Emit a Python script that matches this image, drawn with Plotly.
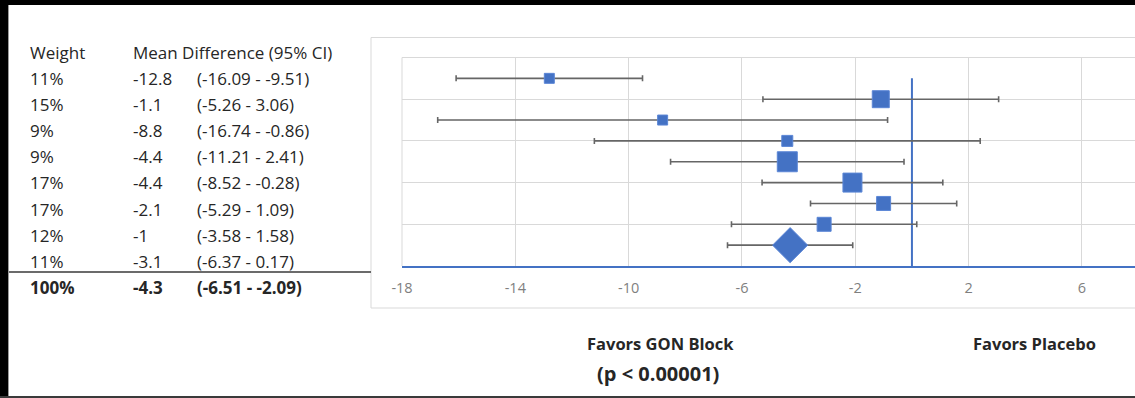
import plotly.graph_objects as go

# ---------------- data ----------------
weights = ["11%", "15%", "9%", "9%", "17%", "17%", "12%", "11%"]
mean_diff = [-12.8, -1.1, -8.8, -4.4, -4.4, -2.1, -1.0, -3.1]
ci_low = [-16.09, -5.26, -16.74, -11.21, -8.52, -5.29, -3.58, -6.37]
ci_high = [-9.51, 3.06, -0.86, 2.41, -0.28, 1.09, 1.58, 0.17]
mean_labels = ["-12.8", "-1.1", "-8.8", "-4.4", "-4.4", "-2.1", "-1", "-3.1"]
ci_labels = ["(-16.09 - -9.51)", "(-5.26 - 3.06)", "(-16.74 - -0.86)", "(-11.21 - 2.41)",
             "(-8.52 - -0.28)", "(-5.29 - 1.09)", "(-3.58 - 1.58)", "(-6.37 - 0.17)"]

pooled_weight = "100%"
pooled_mean = -4.3
pooled_low = -6.51
pooled_high = -2.09
pooled_mean_label = "-4.3"
pooled_ci_label = "(-6.51 - -2.09)"

null_effect = 0
x_tick_vals = [-18, -14, -10, -6, -2, 2, 6, 10]
x_tick_text = ["-18", "-14", "-10", "-6", "-2", "2", "6", "10"]

header = ["Weight", "Mean Difference (95% CI)"]
left_label = "Favors GON Block"
p_label = "(p < 0.00001)"
right_label = "Favors Placebo"

# ---------------- styles ----------------
W, H = 1135, 398
BLUE = "#4472C4"
GRID = "#d9d9d9"
TXT = "#262626"
FONT = "Open Sans"
marker_px = [10, 17, 10, 11, 20, 19, 14, 14]   # square side lengths (style)
diamond_px = 27


def px(x):
    return x / W


def py(y):
    return 1 - y / H


n = len(mean_diff)
study_y = [n + 1 - i for i in range(n)]   # 9 .. 2
pooled_y = 1

fig = go.Figure()

# null-effect vertical line
fig.add_trace(go.Scatter(
    x=[null_effect, null_effect], y=[0, n + 1], mode="lines",
    line=dict(color=BLUE, width=2), hoverinfo="skip", showlegend=False))

# studies
fig.add_trace(go.Scatter(
    x=mean_diff, y=study_y, mode="markers",
    marker=dict(symbol="square", size=marker_px, color=BLUE, opacity=1,
                line=dict(color="#5b86d6", width=1)),
    error_x=dict(type="data", symmetric=False,
                 array=[h - m for h, m in zip(ci_high, mean_diff)],
                 arrayminus=[m - l for m, l in zip(mean_diff, ci_low)],
                 color="#666666", thickness=1.6, width=3),
    showlegend=False))

# pooled
fig.add_trace(go.Scatter(
    x=[pooled_mean], y=[pooled_y], mode="markers",
    marker=dict(symbol="diamond", size=diamond_px, color=BLUE, opacity=1,
                line=dict(color="#5b86d6", width=1)),
    error_x=dict(type="data", symmetric=False,
                 array=[pooled_high - pooled_mean],
                 arrayminus=[pooled_mean - pooled_low],
                 color="#666666", thickness=1.6, width=3),
    showlegend=False))

px_per_unit = 28.33
x_left = x_tick_vals[0]
x_right = x_left + (W - 402) / px_per_unit

fig.update_layout(
    width=W, height=H,
    margin=dict(l=0, r=0, t=0, b=0, pad=0),
    paper_bgcolor="white", plot_bgcolor="white",
    font=dict(family=FONT, color=TXT),
    xaxis=dict(domain=[px(402), 1], range=[x_left, x_right], automargin=False,
               tickvals=x_tick_vals, ticktext=x_tick_text,
               showgrid=True, gridcolor=GRID, gridwidth=1,
               zeroline=False, showline=True, linecolor=BLUE, linewidth=2,
               ticks="", ticklabelstandoff=8,
               tickfont=dict(family=FONT, size=14.5, color="#7f7f7f")),
    yaxis=dict(domain=[py(266), py(57.5)], range=[0, 10], automargin=False,
               tickvals=[0, 2, 4, 6, 8, 10], showticklabels=False,
               showgrid=True, gridcolor=GRID, gridwidth=1,
               zeroline=False, showline=False, ticks=""),
)

shapes = []
# chart box
shapes.append(dict(type="rect", xref="paper", yref="paper",
                   x0=px(371), x1=px(1140), y0=py(308), y1=py(37.5),
                   line=dict(color=GRID, width=1), layer="below"))
# plot area frame left/top
shapes.append(dict(type="line", xref="x domain", yref="y domain",
                   x0=0, x1=0, y0=0, y1=1, line=dict(color=GRID, width=1), layer="below"))
shapes.append(dict(type="line", xref="x domain", yref="y domain",
                   x0=0, x1=1, y0=1, y1=1, line=dict(color=GRID, width=1), layer="below"))
# table separator
shapes.append(dict(type="line", xref="paper", yref="paper",
                   x0=px(8), x1=px(371), y0=py(272), y1=py(272),
                   line=dict(color="#3a3a3a", width=1.5)))
# page borders
shapes.append(dict(type="rect", xref="paper", yref="paper",
                   x0=0, x1=1, y0=py(5), y1=1, fillcolor="black", line_width=0))
shapes.append(dict(type="rect", xref="paper", yref="paper",
                   x0=0, x1=px(8), y0=0, y1=1, fillcolor="black", line_width=0))
shapes.append(dict(type="line", xref="paper", yref="paper",
                   x0=px(8.5), x1=px(8.5), y0=0, y1=py(5),
                   line=dict(color="#9a9a9a", width=1)))
shapes.append(dict(type="rect", xref="paper", yref="paper",
                   x0=0, x1=1, y0=0, y1=py(396), fillcolor="#3a3a3a", line_width=0))
fig.update_layout(shapes=shapes)

ann = []
FS = 17


def txt(x, y, s, bold=False, anchor="left", size=FS):
    ann.append(dict(xref="paper", yref="paper", x=px(x), y=py(y),
                    xanchor=anchor, yanchor="middle", showarrow=False,
                    borderpad=0, borderwidth=0,
                    text=f"<b>{s}</b>" if bold else s,
                    font=dict(family=FONT, size=size, color=TXT)))


txt(30, 52.5, header[0])
txt(133, 52.5, header[1])
for i in range(n):
    yy = 78.5 + 26.1 * i
    txt(30, yy, weights[i])
    txt(133, yy, mean_labels[i])
    txt(197, yy, ci_labels[i])
yy = 78.5 + 26.1 * n
txt(30, yy, pooled_weight, bold=True)
txt(133, yy, pooled_mean_label, bold=True)
txt(197, yy, pooled_ci_label, bold=True)

txt(660, 343, left_label, bold=True, anchor="center", size=16.5)
txt(658, 373, p_label, bold=True, anchor="center", size=20)
txt(1034, 343, right_label, bold=True, anchor="center", size=16.5)

fig.update_layout(annotations=ann)
fig.write_html("out.html",
               config={"displayModeBar": False},
               post_script="document.body.style.margin='0';"
                           "document.body.style.overflow='hidden';")
